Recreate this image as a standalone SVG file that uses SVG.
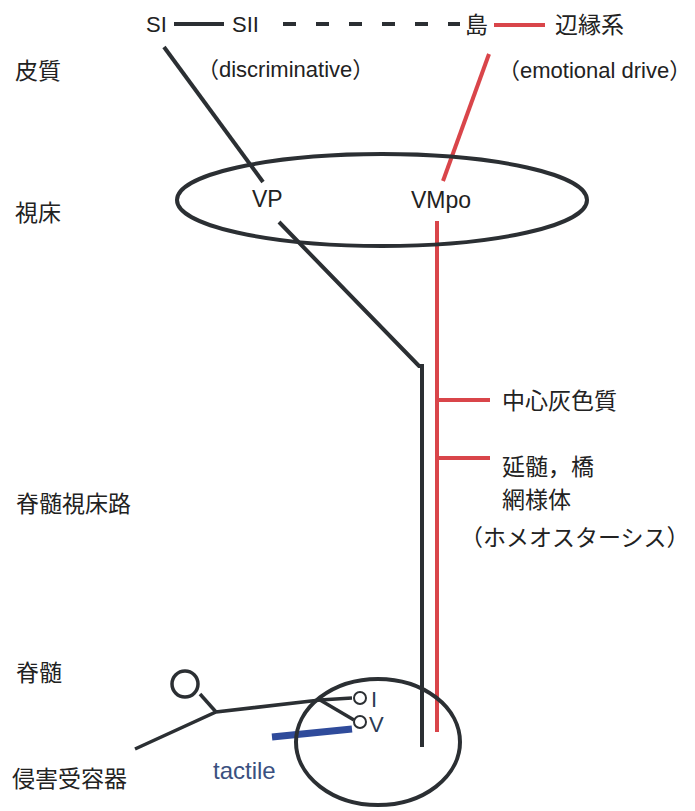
<svg xmlns="http://www.w3.org/2000/svg" width="695" height="811" viewBox="0 0 695 811">
<style>
text{font-family:"Liberation Sans","Noto Sans CJK JP",sans-serif;font-size:23px;fill:#222}
.lat{font-size:22px}
.blk{stroke:#2b2f33;stroke-width:4;fill:none}
.red{stroke:#d9454a;stroke-width:4;fill:none}
.thin{stroke:#2b2f33;stroke-width:3.5;fill:none}
</style>
<rect width="695" height="811" fill="#fff"/>
<g id="labels">
<text x="15" y="79">皮質</text>
<text x="15" y="221">視床</text>
<text x="16" y="512">脊髄視床路</text>
<text x="16" y="681">脊髄</text>
<text x="12" y="787">侵害受容器</text>
</g>
<g id="connectors">
<line class="blk" x1="174" y1="24" x2="224" y2="24"/>
<line class="blk" x1="283" y1="24" x2="460" y2="24" stroke-dasharray="13,20"/>
<line class="red" x1="494" y1="25" x2="545" y2="25"/>
<line class="blk" x1="164" y1="47" x2="263" y2="182"/>
<line class="red" x1="489" y1="54" x2="443" y2="181"/>
<polyline class="blk" points="279,222 419,366 422,366 422,747"/>
<line class="red" x1="437" y1="221" x2="437" y2="732"/>
<line class="red" x1="437" y1="400" x2="490" y2="400"/>
<line class="red" x1="437" y1="458" x2="490" y2="458"/>
<polyline class="thin" points="135,749 216,712 320,700 352,698"/>
<line class="thin" x1="320" y1="700" x2="354" y2="720"/>
<line class="thin" x1="200" y1="694" x2="216" y2="712"/>
<line x1="272" y1="737" x2="352" y2="729" stroke="#2f4b9b" stroke-width="7"/>
</g>
<g id="cortex">
<text class="lat" x="146" y="32">SI</text>
<text class="lat" x="232" y="32">SII</text>
<text x="465" y="33">島</text>
<text x="555" y="33">辺縁系</text>
<text class="lat" x="197" y="77">（discriminative）</text>
<text class="lat" x="498" y="78">（emotional drive）</text>
</g>
<g id="thalamus">
<ellipse class="blk" cx="382" cy="200" rx="205" ry="46"/>
<text x="252" y="207">VP</text>
<text x="411" y="208">VMpo</text>
</g>
<g id="brainstem">
<text x="502" y="409">中心灰色質</text>
<text x="502" y="475">延髄，橋</text>
<text x="502" y="508">網様体</text>
<text x="460" y="546">（ホメオスターシス）</text>
</g>
<g id="spinalcord">
<ellipse class="blk" cx="378" cy="742" rx="82" ry="63"/>
<circle class="thin" cx="185" cy="684" r="13"/>
<circle cx="360" cy="698" r="6" fill="#fff" stroke="#2b2f33" stroke-width="2"/>
<circle cx="360" cy="722" r="6" fill="#fff" stroke="#2b2f33" stroke-width="2"/>
<text class="lat" x="371" y="707" style="fill:#2a3a55">I</text>
<text class="lat" x="369" y="732" style="fill:#2a3a55">V</text>
<text x="213" y="779" style="fill:#3a5080;font-size:24px">tactile</text>
</g>
</svg>
